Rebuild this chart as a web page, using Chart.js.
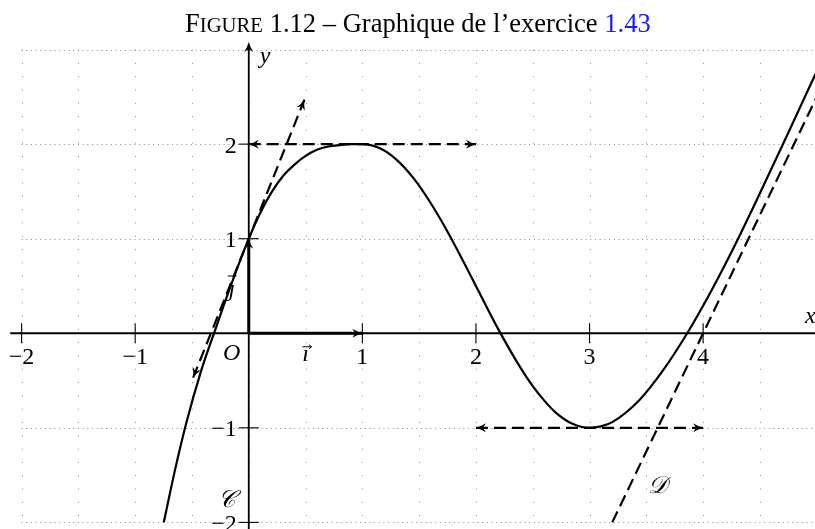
<!DOCTYPE html>
<html>
<head>
<meta charset="utf-8">
<script src="https://cdn.jsdelivr.net/npm/chart.js@4/dist/chart.umd.min.js"></script>
<style>
  html, body { margin: 0; padding: 0; background: #fff; }
  #wrap { width: 815px; height: 529px; }
</style>
</head>
<body>
<div id="wrap"><canvas id="graphique" width="815" height="529"></canvas></div>
<script>
// courbe C
const curveX = [-0.748, -0.65, -0.55, -0.42, -0.3, -0.15, 0, 0.1, 0.2, 0.3, 0.4, 0.5, 0.6, 0.7, 0.8, 0.9, 1, 1.15, 1.3, 1.45, 1.6, 1.75, 1.9, 2, 2.2, 2.4, 2.5, 2.6, 2.7, 2.85, 3, 3.1, 3.2, 3.44, 3.65, 3.86, 4, 4.25, 4.5, 4.75, 5];
const curveY = [-2, -1.45, -0.95, -0.4, 0.02, 0.53, 1, 1.27, 1.49, 1.66, 1.78, 1.875, 1.94, 1.975, 1.99, 1.999, 2, 1.958, 1.836, 1.64, 1.38, 1.074, 0.735, 0.5, 0.036, -0.38, -0.56, -0.71, -0.836, -0.958, -1, -0.985, -0.94, -0.705, -0.388, 0, 0.29, 0.86, 1.48, 2.12, 2.77];

// tangentes et asymptote
const tangenteOX = [-0.49, 0.49];
const tangenteOY = [-0.47, 2.47];
const tangente1X = [0, 2];
const tangente1Y = [2, 2];
const tangente3X = [2, 4];
const tangente3Y = [-1, -1];
const asymptoteX = [3.2, 5];
const asymptoteY = [-2, 2.5];

// vecteurs unitaires
const vecteurIX = [0, 1];
const vecteurIY = [0, 0];
const vecteurJX = [0, 0];
const vecteurJY = [0, 1];

// graduations
const xTicks = [-2, -1, 1, 2, 3, 4];
const xTickLabels = ['−2', '−1', '1', '2', '3', '4'];
const yTicks = [-2, -1, 1, 2];
const yTickLabels = ['−2', '−1', '1', '2'];

const serif = '"Liberation Serif", "DejaVu Serif", serif';

function pts(xs, ys) {
  return xs.map((x, i) => ({ x: x, y: ys[i] }));
}

function fleche(ctx, x1, y1, x2, y2) {
  // pointe en (x2, y2)
  const a = Math.atan2(y2 - y1, x2 - x1);
  const L = 10, w = 4.5;
  ctx.save();
  ctx.translate(x2, y2);
  ctx.rotate(a);
  ctx.setLineDash([]);
  ctx.fillStyle = '#000';
  ctx.beginPath();
  ctx.moveTo(0, 0);
  ctx.quadraticCurveTo(-L * 0.45, w * 0.25, -L, w);
  ctx.lineTo(-L * 0.7, 0);
  ctx.lineTo(-L, -w);
  ctx.quadraticCurveTo(-L * 0.45, -w * 0.25, 0, 0);
  ctx.fill();
  ctx.restore();
}

const reperePlugin = {
  id: 'repere',
  beforeDatasetsDraw(chart) {
    const ctx = chart.ctx;
    const sx = chart.scales.x, sy = chart.scales.y;
    const area = chart.chartArea;
    ctx.save();
    // quadrillage pointillé
    ctx.strokeStyle = '#8a8a8a';
    ctx.lineWidth = 1;
    ctx.setLineDash([1, 12.3]);
    for (let k = 0; k <= 14; k++) {
      const gx = Math.round(sx.getPixelForValue(-2 + 0.5 * k)) + 0.5;
      ctx.beginPath();
      ctx.moveTo(gx, sy.getPixelForValue(3));
      ctx.lineTo(gx, sy.getPixelForValue(-2));
      ctx.stroke();
    }
    ctx.setLineDash([1, 3.7]);
    for (let v = -2; v <= 3; v++) {
      const gy = Math.round(sy.getPixelForValue(v)) + 0.5;
      ctx.beginPath();
      ctx.moveTo(sx.getPixelForValue(-2), gy);
      ctx.lineTo(sx.getPixelForValue(5), gy);
      ctx.stroke();
    }
    ctx.setLineDash([]);

    // axes
    const x0 = sx.getPixelForValue(0), y0 = sy.getPixelForValue(0);
    ctx.strokeStyle = '#000';
    ctx.lineWidth = 1.8;
    ctx.beginPath();
    ctx.moveTo(sx.getPixelForValue(-2.1), y0);
    ctx.lineTo(area.right, y0);
    ctx.moveTo(x0, area.bottom);
    ctx.lineTo(x0, area.top + 3);
    ctx.stroke();
    fleche(ctx, x0, area.top + 20, x0, area.top);

    // graduations
    ctx.lineWidth = 1.1;
    xTicks.forEach(v => {
      const p = sx.getPixelForValue(v);
      ctx.beginPath();
      ctx.moveTo(p, y0 - 10);
      ctx.lineTo(p, y0 + 10);
      ctx.stroke();
    });
    yTicks.forEach(v => {
      const p = sy.getPixelForValue(v);
      ctx.beginPath();
      ctx.moveTo(x0 - 10, p);
      ctx.lineTo(x0 + 10, p);
      ctx.stroke();
    });
    ctx.restore();
  },
  afterDatasetsDraw(chart) {
    const ctx = chart.ctx;
    const sx = chart.scales.x, sy = chart.scales.y;
    const area = chart.chartArea;

    // pointes de fleches
    chart.data.datasets.forEach((ds, i) => {
      if (!ds.fleches) return;
      const el = chart.getDatasetMeta(i).data;
      const a = el[0], b = el[el.length - 1];
      fleche(ctx, a.x, a.y, b.x, b.y);
      if (ds.fleches === 'deux') fleche(ctx, b.x, b.y, a.x, a.y);
    });

    ctx.save();
    ctx.fillStyle = '#000';
    ctx.font = '24px ' + serif;
    ctx.textBaseline = 'alphabetic';
    ctx.textAlign = 'center';
    const y0 = sy.getPixelForValue(0), x0 = sx.getPixelForValue(0);
    xTicks.forEach((v, i) => {
      ctx.fillText(xTickLabels[i], sx.getPixelForValue(v), y0 + 31);
    });
    ctx.textAlign = 'right';
    yTicks.forEach((v, i) => {
      ctx.fillText(yTickLabels[i], x0 - 12, sy.getPixelForValue(v) + 8.5);
    });

    // noms
    ctx.font = 'italic 24px ' + serif;
    ctx.textAlign = 'left';
    ctx.fillText('y', x0 + 11, area.top + 21);
    ctx.fillText('x', area.right - 10, y0 - 10);
    ctx.textAlign = 'center';
    ctx.fillText('O', x0 - 17, y0 + 27);
    ctx.fillText('ı', sx.getPixelForValue(0.5), y0 + 28);
    ctx.fillText('ȷ', x0 - 17, sy.getPixelForValue(0.5) + 10);
    // petites fleches des vecteurs
    ctx.strokeStyle = '#000';
    ctx.lineWidth = 1;
    const vi = sx.getPixelForValue(0.5);
    ctx.beginPath();
    ctx.moveTo(vi - 3, y0 + 13.5);
    ctx.lineTo(vi + 6, y0 + 13.5);
    ctx.moveTo(vi + 3.5, y0 + 11.5);
    ctx.lineTo(vi + 6, y0 + 13.5);
    ctx.lineTo(vi + 3.5, y0 + 15.5);
    ctx.moveTo(x0 - 21, sy.getPixelForValue(0.5) - 10);
    ctx.lineTo(x0 - 12, sy.getPixelForValue(0.5) - 10);
    ctx.stroke();

    ctx.font = 'italic 24px "DejaVu Serif", serif';
    ctx.fillText('𝒞', x0 - 22, sy.getPixelForValue(-1.75) + 8);
    ctx.fillText('𝒟', sx.getPixelForValue(3.6), sy.getPixelForValue(-1.6) + 8);

    // titre
    const parts = [
      { t: 'F', s: 1, c: '#000' },
      { t: 'IGURE', s: 0.78, c: '#000' },
      { t: ' 1.12 – Graphique de l’exercice ', s: 1, c: '#000' },
      { t: '1.43', s: 1, c: '#1a1aff' }
    ];
    let base = 24, total = 0;
    parts.forEach(p => {
      ctx.font = (base * p.s) + 'px ' + serif;
      total += ctx.measureText(p.t).width;
    });
    base = base * 466 / total;
    let tx = 418 - 466 / 2;
    ctx.textAlign = 'left';
    parts.forEach(p => {
      ctx.font = (base * p.s) + 'px ' + serif;
      ctx.fillStyle = p.c;
      ctx.fillText(p.t, tx, 32);
      tx += ctx.measureText(p.t).width;
    });
    ctx.restore();
  }
};

const tirets = [12, 6];

new Chart(document.getElementById('graphique').getContext('2d'), {
  type: 'scatter',
  data: {
    datasets: [
      { data: pts(curveX, curveY), showLine: true, borderColor: '#000', borderWidth: 2.2, cubicInterpolationMode: 'monotone' },
      { data: pts(tangenteOX, tangenteOY), showLine: true, borderColor: '#000', borderWidth: 2.2, borderDash: tirets, fleches: 'deux' },
      { data: pts(tangente1X, tangente1Y), showLine: true, borderColor: '#000', borderWidth: 2.2, borderDash: tirets, fleches: 'deux' },
      { data: pts(tangente3X, tangente3Y), showLine: true, borderColor: '#000', borderWidth: 2.2, borderDash: tirets, fleches: 'deux' },
      { data: pts(asymptoteX, asymptoteY), showLine: true, borderColor: '#000', borderWidth: 2.2, borderDash: tirets },
      { data: pts(vecteurIX, vecteurIY), showLine: true, borderColor: '#000', borderWidth: 3, fleches: 'fin' },
      { data: pts(vecteurJX, vecteurJY), showLine: true, borderColor: '#000', borderWidth: 3, fleches: 'fin' }
    ]
  },
  options: {
    responsive: false,
    devicePixelRatio: 1,
    animation: false,
    layout: { padding: { top: 42, left: 0, right: 0, bottom: 0 } },
    elements: { point: { radius: 0, hoverRadius: 0 } },
    scales: {
      x: { type: 'linear', min: -2.19, max: 4.985, display: false },
      y: { type: 'linear', min: -2.07, max: 3.08, display: false }
    },
    plugins: {
      legend: { display: false },
      tooltip: { enabled: false }
    }
  },
  plugins: [reperePlugin]
});
</script>
</body>
</html>
